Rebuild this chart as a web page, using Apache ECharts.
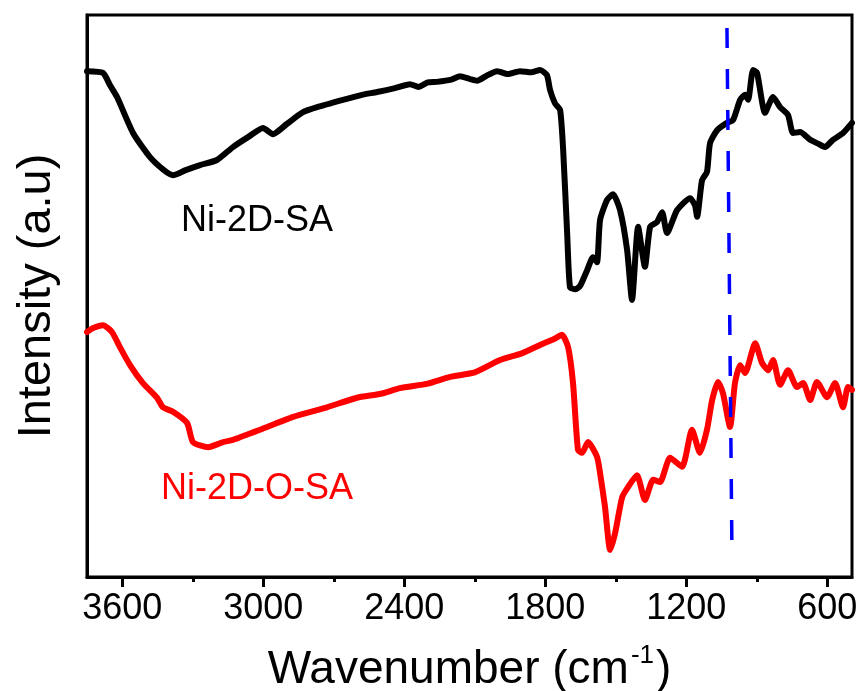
<!DOCTYPE html>
<html>
<head>
<meta charset="utf-8">
<script src="https://cdn.jsdelivr.net/npm/echarts@6/dist/echarts.min.js"></script>
<style>
  html, body { margin: 0; padding: 0; background: #ffffff; }
  #chart { width: 862px; height: 691px; }
</style>
</head>
<body>
<div id="chart"></div>
<script>
// FTIR spectra: wavenumber (cm-1) and relative intensity (a.u.)
const blackWn = [3750, 3682, 3652, 3622, 3554, 3482, 3420, 3384, 3330, 3269, 3197, 3129, 3060, 3001, 2959, 2900, 2831, 2771, 2661, 2580, 2516, 2440, 2376, 2340, 2300, 2261, 2200, 2163, 2120, 2090, 2050, 2005, 1960, 1907, 1860, 1822, 1793, 1780, 1759, 1737, 1724, 1707, 1695, 1673, 1652, 1622, 1597, 1580, 1567, 1537, 1512, 1482, 1452, 1431, 1405, 1376, 1354, 1324, 1303, 1282, 1239, 1184, 1163, 1154, 1133, 1112, 1099, 1069, 1027, 1001, 971, 950, 937, 916, 899, 865, 831, 801, 767, 746, 716, 673, 644, 610, 576, 533, 495];
const blackVal = [90.0, 89.7, 87.5, 85.4, 79.0, 74.7, 72.3, 71.5, 72.4, 73.3, 74.2, 76.5, 78.4, 79.9, 78.8, 80.6, 82.7, 83.6, 84.9, 85.8, 86.3, 87.0, 87.7, 87.2, 88.0, 88.1, 88.5, 89.1, 88.6, 88.3, 89.2, 90.0, 89.5, 90.0, 89.8, 90.2, 89.3, 86.7, 84.3, 83.1, 76.0, 61.2, 51.6, 51.2, 51.8, 54.6, 56.9, 56.0, 63.5, 67.1, 68.1, 65.3, 58.2, 49.3, 62.3, 55.2, 62.3, 63.2, 64.9, 61.2, 65.3, 67.4, 66.1, 64.1, 70.6, 72.1, 77.2, 79.5, 80.8, 81.3, 84.9, 85.8, 84.9, 90.2, 89.7, 82.6, 85.4, 83.6, 82.2, 79.0, 79.2, 77.8, 77.2, 76.5, 77.8, 79.0, 80.8];

const redWn = [3750, 3724, 3682, 3644, 3610, 3567, 3512, 3452, 3427, 3384, 3324, 3299, 3235, 3171, 3129, 3014, 2873, 2729, 2601, 2500, 2418, 2300, 2205, 2100, 1993, 1900, 1822, 1760, 1729, 1703, 1682, 1661, 1644, 1618, 1580, 1567, 1546, 1524, 1503, 1473, 1448, 1410, 1376, 1341, 1312, 1269, 1218, 1176, 1142, 1112, 1090, 1065, 1044, 1014, 993, 971, 950, 907, 878, 852, 831, 801, 767, 729, 703, 673, 644, 601, 567, 533, 512, 495];
const redVal = [43.6, 44.3, 44.8, 43.6, 40.9, 37.7, 34.5, 31.9, 30.2, 29.4, 27.4, 24.0, 23.1, 24.0, 24.4, 26.2, 28.5, 30.2, 31.9, 32.6, 33.6, 34.4, 35.6, 36.4, 38.6, 39.8, 41.3, 42.4, 43.1, 40.9, 34.5, 22.6, 22.1, 24.0, 21.4, 18.5, 12.5, 4.8, 7.8, 14.2, 16.0, 18.1, 13.7, 17.3, 16.9, 21.2, 19.6, 26.2, 22.1, 26.2, 31.5, 34.7, 32.7, 26.7, 34.5, 37.7, 36.3, 41.6, 38.1, 36.8, 38.6, 34.2, 36.8, 33.8, 34.5, 31.5, 34.7, 32.0, 34.5, 30.2, 33.8, 33.3];

// reference marker line (slightly slanted dashed guide)
const markerWn = [1027, 1006];
const markerVal = [97.7, 5.3];

// sample labels: [wavenumber, intensity, text, colour]
const sampleLabels = [
  [3027, 63.3, 'Ni-2D-SA', '#000000'],
  [3027, 15.6, 'Ni-2D-O-SA', '#ff0000']
];

const majorTicks = [3600, 3000, 2400, 1800, 1200, 600];
const minorTicks = [3300, 2700, 2100, 1500, 900];

const zip = (xs, ys) => xs.map((x, i) => [x, ys[i]]);
const FONT = '"Liberation Sans", Arial, Helvetica, sans-serif';

const chart = echarts.init(document.getElementById('chart'), null, { renderer: 'canvas' });

const xBase = {
  type: 'value',
  inverse: true,
  min: 495,
  max: 3750,
  position: 'bottom',
  splitLine: { show: false }
};

chart.setOption({
  animation: false,
  backgroundColor: '#ffffff',
  grid: {
    left: 87, right: 10, top: 15, bottom: 114,
    show: true,
    borderColor: '#000000',
    borderWidth: 3,
    containLabel: false,
    outerBoundsMode: 'none'
  },
  xAxis: [
    Object.assign({}, xBase, {
      name: '{t|Wavenumber (cm}{s|-1}{t|)}',
      nameLocation: 'middle',
      nameGap: 66,
      nameTextStyle: {
        rich: {
          t: { fontFamily: FONT, fontSize: 46, color: '#000000', lineHeight: 54 },
          s: { fontFamily: FONT, fontSize: 26, color: '#000000', verticalAlign: 'top', lineHeight: 54, padding: [0, 2, 26, 2] }
        }
      },
      axisLine: { show: true, lineStyle: { color: '#000000', width: 3 } },
      axisTick: { show: true, inside: false, length: 10, customValues: majorTicks, lineStyle: { color: '#000000', width: 3 } },
      axisLabel: {
        show: true, customValues: majorTicks, margin: 14,
        formatter: v => String(v),
        fontFamily: FONT, fontSize: 36, color: '#000000'
      }
    }),
    Object.assign({}, xBase, {
      axisLine: { show: false },
      axisTick: { show: true, inside: false, length: 5, customValues: minorTicks, lineStyle: { color: '#000000', width: 3 } },
      axisLabel: { show: false }
    })
  ],
  yAxis: {
    type: 'value',
    min: 0,
    max: 100,
    name: 'Intensity (a.u)',
    nameLocation: 'middle',
    nameGap: 26,
    nameTextStyle: { fontFamily: FONT, fontSize: 47, color: '#000000' },
    axisLine: { show: true, lineStyle: { color: '#000000', width: 3 } },
    axisTick: { show: false },
    axisLabel: { show: false },
    splitLine: { show: false }
  },
  series: [
    {
      name: 'Ni-2D-SA',
      type: 'line',
      data: zip(blackWn, blackVal),
      showSymbol: false,
      symbol: 'none',
      smooth: 0.2,
      lineStyle: { color: '#000000', width: 6, join: 'round', cap: 'round' },
      z: 3
    },
    {
      name: 'Ni-2D-O-SA',
      type: 'line',
      data: zip(redWn, redVal),
      showSymbol: false,
      symbol: 'none',
      smooth: 0.2,
      lineStyle: { color: '#ff0000', width: 6, join: 'round', cap: 'round' },
      z: 3
    },
    {
      name: 'marker',
      type: 'line',
      data: zip(markerWn, markerVal),
      symbol: 'none',
      lineStyle: { color: '#0000ff', width: 3.5, type: [20, 21] },
      z: 4
    },
    {
      name: 'labels',
      type: 'scatter',
      symbolSize: 0,
      itemStyle: { opacity: 1 },
      data: sampleLabels.map(d => ({
        value: [d[0], d[1]],
        label: {
          show: true,
          position: 'inside',
          formatter: d[2],
          fontFamily: FONT,
          fontSize: 36,
          color: d[3],
          opacity: 1
        }
      })),
      silent: true,
      z: 5
    }
  ]
});
</script>
</body>
</html>
